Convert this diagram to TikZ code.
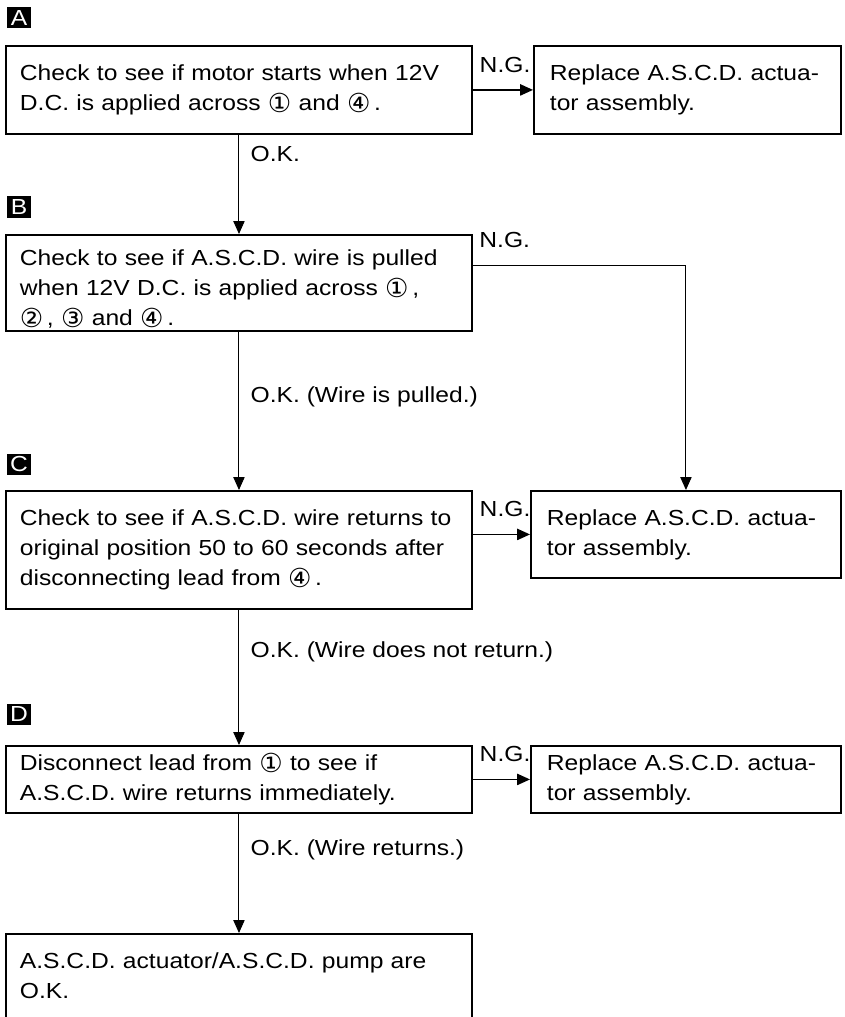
\documentclass[tikz,border=0pt]{standalone}
\usepackage{fontspec}
\setmainfont{Liberation Sans}[FakeStretch=1.13]
\newfontfamily\circfont{DejaVu Sans}[Scale=1.2]
\usepackage{tikz}
\usetikzlibrary{positioning,arrows.meta,calc}
\newcommand{\cnum}[1]{\raisebox{-1.5pt}{\circfont #1}}
\frenchspacing

\begin{document}
\begin{tikzpicture}[x=0.025cm,y=-0.025cm,font={\fontsize{15.5pt}{21.3pt}\selectfont},
  tag/.style={fill=black,text=white,inner sep=0pt,minimum width=0.575cm,minimum height=0.525cm},
  checkbox/.style={draw,line width=1.3pt,anchor=north west,align=left,text width=10.95cm,inner xsep=0.35cm,inner ysep=0pt},
  replbox/.style={draw,line width=1.3pt,anchor=north west,align=left,text width=6.95cm,inner xsep=0.4cm,inner ysep=0pt},
  okline/.style={-{Triangle[length=0.32cm,width=0.28cm]},line width=0.7pt},
  ngline/.style={-{Triangle[length=0.32cm,width=0.28cm]},line width=1.1pt},
  ng/.style={anchor=south west,inner sep=0pt,xshift=0.15cm,yshift=0.42cm},
  ok/.style={anchor=west,inner sep=0pt,xshift=0.28cm}]
\useasboundingbox (0,0) rectangle (845,1017);

% step A
\node[tag] (labA) at (19,18) {A};
\node[checkbox,minimum height=2.2cm] (boxA) at (5,45)
  {Check to see if motor starts when 12V\\D.C. is applied across \cnum{①} and \cnum{④}\,.};
\node[replbox,minimum height=2.2cm,text width=6.88cm] (repA) at (533,45)
  {Replace A.S.C.D. actua-\\tor assembly.};

% step B
\node[tag] (labB) at (19,207) {B};
\node[checkbox,minimum height=2.4cm] (boxB) at (5,234)
  {\rule{0pt}{20pt}Check to see if A.S.C.D. wire is pulled\\when 12V D.C. is applied across \cnum{①}\,,\\\cnum{②}\,, \cnum{③} and \cnum{④}\,.};

% step C
\node[tag] (labC) at (19,464) {C};
\node[checkbox,minimum height=2.95cm] (boxC) at (5,490)
  {Check to see if A.S.C.D. wire returns to\\original position 50 to 60 seconds after\\disconnecting lead from \cnum{④}\,.};
\node[replbox,minimum height=2.175cm] (repC) at (530,490)
  {Replace A.S.C.D. actua-\\tor assembly.};

% step D
\node[tag] (labD) at (19,714) {D};
\node[checkbox,minimum height=1.675cm] (boxD) at (5,745)
  {Disconnect lead from \cnum{①} to see if\\A.S.C.D. wire returns immediately.};
\node[replbox,minimum height=1.675cm] (repD) at (530,745)
  {Replace A.S.C.D. actua-\\tor assembly.};

% result
\node[checkbox,minimum height=2.1cm] (boxE) at (5,933)
  {A.S.C.D. actuator/A.S.C.D. pump are\\O.K.};

% N.G. branches
\draw[ngline] (boxA) -- node[ng,pos=0] {N.G.} (repA);
\draw[okline] ($(boxB.north east)+(0,31)$) -| node[ng,pos=0] {N.G.} (repC.north);
\draw[ngline] (boxC.east |- repC.west) -- node[ng,pos=0] {N.G.} (repC);
\draw[ngline] (boxD) -- node[ng,pos=0] {N.G.} (repD);

% O.K. path
\draw[okline] (boxA) -- node[ok,pos=0.19] {O.K.} (boxB);
\draw[okline] (boxB) -- node[ok,pos=0.41] {O.K. (Wire is pulled.)} (boxC);
\draw[okline] (boxC) -- node[ok,pos=0.31] {O.K. (Wire does not return.)} (boxD);
\draw[okline] (boxD) -- node[ok,pos=0.30] {O.K. (Wire returns.)} (boxE);
\end{tikzpicture}
\end{document}
